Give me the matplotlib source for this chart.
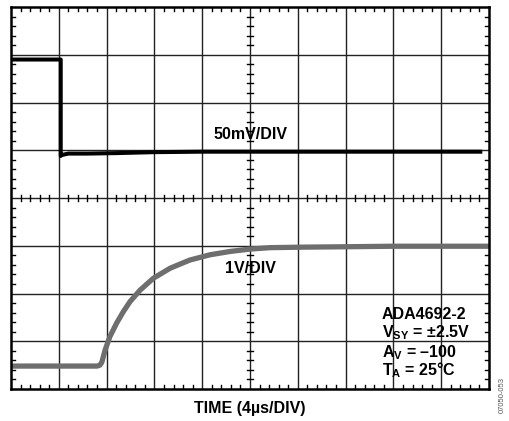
import matplotlib
matplotlib.use("Agg")
import matplotlib.pyplot as plt
import numpy as np

# Oscilloscope traces in division units (x: 0..10 divisions, y: 0..8 divisions)
out_x = [0.0, 1.04, 1.04, 1.06, 1.2, 1.6, 2.2, 3.0, 4.0, 6.0, 8.0, 9.86]
out_y = [6.90, 6.90, 4.88, 4.90, 4.93, 4.93, 4.94, 4.96, 4.97, 4.97, 4.97, 4.97]

in_x = [0.0, 1.80, 1.86, 1.90, 1.97, 2.07, 2.21, 2.35, 2.49, 2.70, 2.98, 3.33, 3.74, 4.16, 4.58, 5.00, 5.42, 6.05, 7.09, 8.0, 10.0]
in_y = [0.48, 0.48, 0.50, 0.56, 0.82, 1.10, 1.38, 1.62, 1.83, 2.07, 2.32, 2.53, 2.70, 2.81, 2.88, 2.93, 2.96, 2.97, 2.98, 2.99, 2.99]

x_divs = 10
y_divs = 8
labels = ["50mV/DIV", "1V/DIV"]
info = ["ADA4692-2", r"V$_{\mathrm{SY}}$ = ±2.5V", r"A$_{\mathrm{V}}$ = –100", r"T$_{\mathrm{A}}$ = 25°C"]
xlabel = "TIME (4µs/DIV)"
code = "07050-053"

plt.rcParams['font.family'] = ['Liberation Sans', 'DejaVu Sans']
plt.rcParams['mathtext.fontset'] = 'custom'
plt.rcParams['mathtext.rm'] = 'Liberation Sans:bold'
plt.rcParams['mathtext.it'] = 'Liberation Sans:bold'
plt.rcParams['mathtext.bf'] = 'Liberation Sans:bold'

fig = plt.figure(figsize=(5.10, 4.21), dpi=100)
ax = fig.add_axes([11/510, 1-389/421, 478/510, 382/421])
ax.set_xlim(0, x_divs)
ax.set_ylim(0, y_divs)

# grid
for i in range(1, x_divs):
    ax.axvline(i, color='#222222', lw=1.0, zorder=1)
for j in range(1, y_divs):
    ax.axhline(j, color='#222222', lw=1.0, zorder=1)

# minor ticks on borders (inward) and on center lines
tl = 0.08
for k in range(x_divs * 5 + 1):
    x = k / 5
    if k % 5 == 0:
        continue
    ax.plot([x, x], [y_divs, y_divs - tl], color='black', lw=1.0, zorder=2)
    ax.plot([x, x], [0, tl], color='black', lw=1.0, zorder=2)
    ax.plot([x, x], [y_divs/2 - tl*0.8, y_divs/2 + tl*0.8], color='black', lw=1.0, zorder=2)
for k in range(y_divs * 5 + 1):
    y = k / 5
    if k % 5 == 0:
        continue
    ax.plot([0, tl], [y, y], color='black', lw=1.0, zorder=2)
    ax.plot([x_divs, x_divs - tl], [y, y], color='black', lw=1.0, zorder=2)
    ax.plot([x_divs/2 - tl*0.8, x_divs/2 + tl*0.8], [y, y], color='black', lw=1.0, zorder=2)

ax.plot(in_x, in_y, color='#6e6e6e', lw=3.8, solid_capstyle='butt', solid_joinstyle='round', zorder=3)
ax.plot(out_x, out_y, color='black', lw=2.9, solid_capstyle='butt', zorder=4)

ax.set_xticks([])
ax.set_yticks([])
for s in ax.spines.values():
    s.set_linewidth(1.8)
    s.set_zorder(5)

fs = 11.5
ax.text(5.0, 5.32, labels[0], ha='center', va='center', fontsize=fs, fontweight='bold', zorder=6)
ax.text(5.0, 2.53, labels[1], ha='center', va='center', fontsize=fs, fontweight='bold', zorder=6)

ys = [1.55, 1.17, 0.77, 0.40]
for t, y in zip(info, ys):
    ax.text(7.76, y, t, ha='left', va='center', fontsize=fs, fontweight='bold', zorder=6)

fig.text(250/510, 1-409/421, xlabel, ha='center', va='center', fontsize=fs, fontweight='bold')
fig.text(502/510, 1-395/421, code, ha='center', va='center', fontsize=5.5, rotation=90, color='#555555')

fig.savefig("out.png", dpi=100)
